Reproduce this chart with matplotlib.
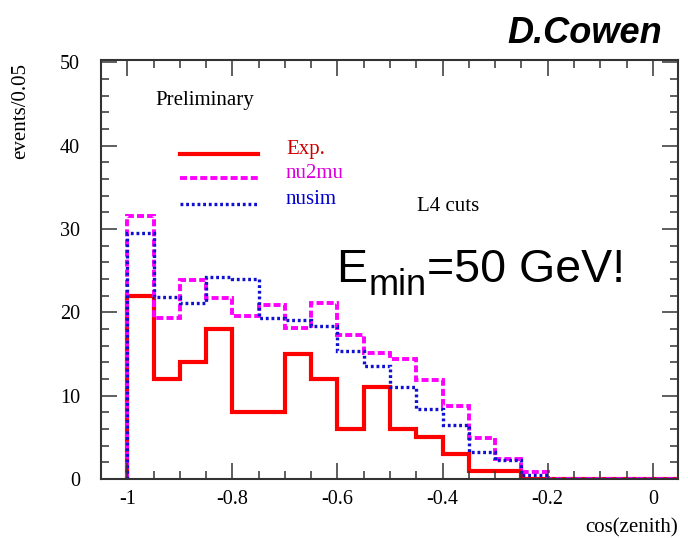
import numpy as np
import matplotlib.pyplot as plt
from matplotlib.ticker import MultipleLocator, FixedLocator, FixedFormatter

plt.rcParams['font.family'] = ['Liberation Serif', 'DejaVu Serif']
plt.rcParams['axes.unicode_minus'] = False

# histogram bins in cos(zenith), width 0.05
edges = np.round(np.arange(-1.0, 0.051, 0.05), 2)
exp_counts = [22, 12, 14, 18, 8, 8, 15, 12, 6, 11, 6, 5, 3, 1, 1, 0, 0, 0, 0, 0, 0]
nu2mu = [31.5, 19.3, 23.9, 21.7, 19.5, 20.9, 18.1, 21.1, 17.3, 15.1, 14.4, 11.9,
         8.8, 4.9, 2.45, 0.8, 0, 0, 0, 0, 0]
nusim = [29.5, 21.8, 21.1, 24.2, 24.0, 19.3, 19.1, 18.3, 15.4, 13.5, 11.0, 8.4,
         6.5, 3.2, 2.3, 0.5, 0, 0, 0, 0, 0]

xticks = [-1, -0.8, -0.6, -0.4, -0.2, 0]
xtick_labels = ['-1', '-0.8', '-0.6', '-0.4', '-0.2', '0']

W, H = 688, 538
fig = plt.figure(figsize=(W / 100, H / 100), dpi=100)
ax = fig.add_axes([101 / W, 1 - 479 / H, 577 / W, 419 / H])

red, mag, blue = '#ff0000', '#ff00ff', '#1010d0'
styles = [
    (exp_counts, red, 3.0, '-'),
    (nu2mu, mag, 2.8, (0, (1.8, 0.8))),
    (nusim, blue, 2.4, (0, (0.85, 0.85))),
]
for vals, c, lw, ls in styles:
    ax.stairs(vals, edges, baseline=0, color=c, lw=lw, linestyle=ls, joinstyle='miter')

ax.set_xlim(-1.05, 0.048)
ax.set_ylim(0, 50.27)

ax.xaxis.set_major_locator(FixedLocator(xticks))
ax.xaxis.set_major_formatter(FixedFormatter(xtick_labels))
ax.xaxis.set_minor_locator(MultipleLocator(0.05))
ax.yaxis.set_major_locator(MultipleLocator(10))
ax.yaxis.set_minor_locator(MultipleLocator(2))

frame = '#333333'
for s in ax.spines.values():
    s.set_linewidth(1.5)
    s.set_color(frame)
ax.tick_params(which='both', direction='in', top=True, right=True, color=frame, width=1.1)
ax.tick_params(which='major', length=11.5)
ax.tick_params(which='minor', length=5.8)
ax.tick_params(axis='x', which='major', labelsize=14.5, pad=8)
ax.tick_params(axis='y', which='major', labelsize=14.5, pad=15)

# legend drawn by hand like the original
leg = [('Exp.', red, '#cc0000', 154), ('nu2mu', mag, '#dd00dd', 178), ('nusim', blue, '#0000cc', 204)]
for (label, c, tc, py), (_, _, lw, ls) in zip(leg, styles):
    yy = (479 - py) / 419
    ax.plot([(180 - 101) / 577, (258 - 101) / 577], [yy, yy], transform=ax.transAxes,
            color=c, lw=lw, linestyle=ls)
    fig.text(286 / W, 1 - py / H, label, color=tc, fontsize=15, va='baseline')

fig.text(155 / W, 1 - 105 / H, 'Preliminary', fontsize=15, va='baseline')
fig.text(417 / W, 1 - 211 / H, 'L4 cuts', fontsize=15, va='baseline')
fig.text(21 / W, 1 - 63 / H, 'events/0.05', fontsize=15, rotation=90, ha='center', va='top')
fig.text(678 / W, 1 - 532 / H, 'cos(zenith)', fontsize=15, ha='right', va='baseline')

fig.text(662 / W, 1 - 43 / H, 'D.Cowen', fontsize=26, family='Liberation Sans',
         weight='bold', style='italic', ha='right', va='baseline')

# E_min=50 GeV! built from three pieces so the subscript can be large
t1 = fig.text(336 / W, 1 - 282 / H, 'E', fontsize=33.5, family='Liberation Sans', va='baseline')
t2 = ax.annotate('min', xy=(1, 0), xycoords=t1, xytext=(1, -8), textcoords='offset points',
                 fontsize=26, family='Liberation Sans', va='bottom', annotation_clip=False)
t3 = ax.annotate('=50 GeV!', xy=(1, 0), xycoords=(t2, t1), xytext=(0, 0),
                 textcoords='offset points', fontsize=33.5, family='Liberation Sans',
                 va='bottom', annotation_clip=False)

fig.savefig('out.png', dpi=100)
